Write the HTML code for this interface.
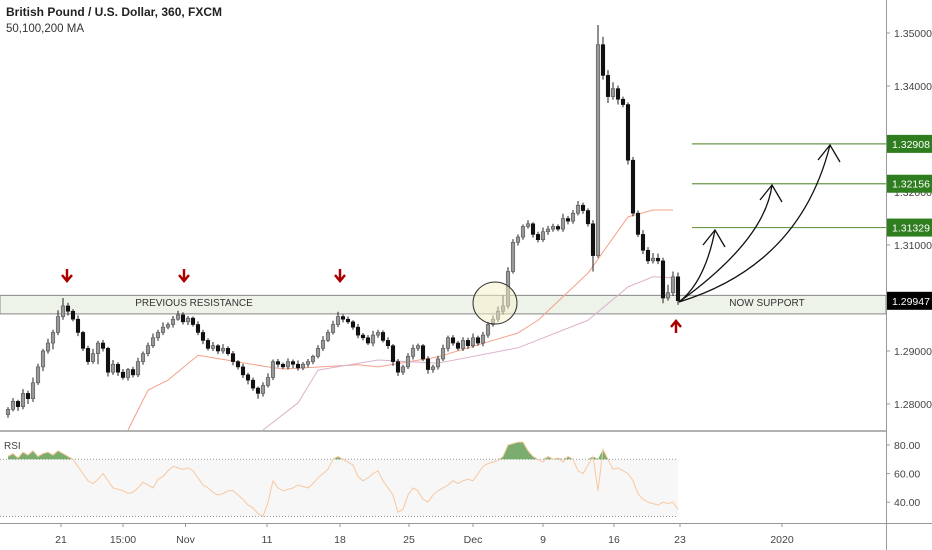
<!DOCTYPE html>
<html><head><meta charset="utf-8"><style>
html,body{margin:0;padding:0;background:#fff;}
svg{display:block;font-family:"Liberation Sans",sans-serif;}
</style></head><body>
<svg id="c" width="932" height="550" viewBox="0 0 932 550"></svg>
<script>
const closes=[1.2790,1.2805,1.2795,1.2820,1.2810,1.2840,1.2870,1.2900,1.2915,1.2935,
1.2965,1.2985,1.2975,1.2960,1.2935,1.2905,1.2880,1.2895,1.2915,1.2905,
1.2860,1.2875,1.2860,1.2850,1.2865,1.2855,1.2880,1.2895,1.2910,1.2925,
1.2935,1.2945,1.2950,1.2960,1.2968,1.2955,1.2962,1.2950,1.2935,1.2920,
1.2905,1.2910,1.2900,1.2905,1.2895,1.2880,1.2870,1.2855,1.2845,1.2830,
1.2820,1.2835,1.2850,1.2880,1.2875,1.2870,1.2880,1.2875,1.2868,1.2875,
1.2880,1.2890,1.2905,1.2920,1.2935,1.2950,1.2965,1.2960,1.2955,1.2945,
1.2930,1.2925,1.2915,1.2930,1.2935,1.2920,1.2910,1.2880,1.2860,1.2870,
1.2890,1.2905,1.2910,1.2885,1.2865,1.2870,1.2885,1.2905,1.2925,1.2915,
1.2905,1.2920,1.2910,1.2925,1.2915,1.2930,1.2950,1.2960,1.2975,1.2985,
1.3050,1.3105,1.3115,1.3135,1.3140,1.3120,1.3110,1.3125,1.3130,1.3135,
1.3130,1.3150,1.3145,1.3160,1.3175,1.3165,1.3140,1.3080,1.3478,1.3420,
1.3380,1.3395,1.3375,1.3365,1.3260,1.3160,1.3120,1.3090,1.3070,1.3075,
1.3070,1.3000,1.3010,1.3040,1.2995];
const firstOpen=1.2780;
const wickHi=[4,6,3,8,5,10,6,4,8,5,12,15,6,4,7,3,5,9,4,6,3,8,4,6,3,5,7,4,6,8,5,9,4,6,8,5,4,3,6,5,4,7,3,8,4,5,3,6,4,5,3,6,8,4,5,3,6,4,7,4,5,3,6,8,5,7,9,4,5,3,6,4,5,8,5,4,6,3,5,4,6,7,4,3,5,4,6,7,4,5,4,6,5,8,4,6,5,7,9,20,8,6,5,4,7,3,5,8,6,5,4,9,5,6,8,5,4,7,37,15,10,12,6,5,4,6,5,8,6,10,9,6,15,10,8];
const wickLo=[6,4,8,5,10,6,4,8,5,12,5,6,8,4,7,5,6,4,20,6,8,5,7,4,6,5,4,6,5,4,6,5,4,6,3,5,6,4,5,7,4,5,6,5,4,7,5,6,8,5,10,6,4,5,6,4,5,7,5,4,6,5,4,5,3,4,5,6,4,5,6,5,4,6,5,4,6,8,7,5,4,6,5,4,8,6,5,4,6,5,4,5,6,4,5,6,5,4,5,6,5,4,6,5,4,6,5,4,6,5,4,5,6,5,4,6,5,30,4,8,12,6,10,5,8,6,5,7,6,5,6,10,5,6,8];
const rsi=[72,74,71,75,73,76,72,74,75,73,76,74,72,70,65,60,55,53,56,60,55,50,49,48,46,47,50,54,52,50,56,58,62,65,64,63,64,62,57,52,50,47,45,46,48,48,45,42,38,36,32,30,40,55,50,48,49,50,52,51,50,53,57,60,63,70,72,70,68,66,58,55,57,60,62,55,50,45,33,35,45,50,48,42,40,45,48,50,52,55,53,55,56,55,60,65,67,68,69,72,80,81,82,82,76,72,70,68,72,70,71,68,72,70,62,60,66,72,48,77,70,63,64,62,60,55,46,42,40,39,38,40,39,40,35];
const ma50=[[24,1.2751],[28,1.2826],[32,1.2845],[38,1.2892],[52,1.2870],[55,1.2866],[70,1.2874],[74,1.2870],[86,1.2889],[102,1.2934],[106,1.2958],[116,1.3047],[124,1.3153],[129,1.3166],[133,1.3166]];
const ma100=[[51,1.2751],[58,1.2802],[62,1.2864],[74,1.2883],[86,1.2877],[102,1.2906],[116,1.2958],[124,1.3021],[129,1.3040],[133,1.3038]];
const priceTicks=[1.35,1.34,1.33,1.32,1.31,1.30,1.29,1.28];
const levels=[1.32908,1.32156,1.31329];
const current=1.29947;
const rsiTicks=[80,60,40];
const dateLabels=["21","15:00","Nov","11","18","25","Dec","9","16","23","2020"];
const dateIdx=[10.6,23,35.5,51.8,66.4,80.2,93,107,121.2,134.4,154.8];

const NS="http://www.w3.org/2000/svg";
const svg=document.getElementById('c');
function el(t,a,p){const e=document.createElementNS(NS,t);for(const k in a)e.setAttribute(k,a[k]);(p||svg).appendChild(e);return e;}
const X=i=>8+i*5;
const Y=p=>33+(1.35-p)*5300;
const RY=v=>445+(80-v)*1.43;

let g=el('g',{});
el('rect',{x:0,y:RY(70),width:678,height:RY(30)-RY(70),fill:'#f7f7f7'},g);
el('line',{x1:0,x2:678,y1:RY(70),y2:RY(70),stroke:'#999','stroke-dasharray':'1,2'},g);
el('line',{x1:0,x2:678,y1:RY(30),y2:RY(30),stroke:'#999','stroke-dasharray':'1,2'},g);

let b=el('rect',{x:0,y:Y(1.3005),width:886,height:Y(1.2970)-Y(1.3005),fill:'#eef3ea',stroke:'#888','stroke-width':1});

let t=el('text',{x:194,y:306,'font-size':10,fill:'#333','text-anchor':'middle'});t.textContent='PREVIOUS RESISTANCE';

t=el('text',{x:767,y:306,'font-size':10,fill:'#333','text-anchor':'middle'});t.textContent='NOW SUPPORT';


function maLine(arr,col,name){let d=arr.map((p,k)=>(k?'L':'M')+X(p[0])+','+Y(p[1])).join(' ');
 const e=el('path',{d:d,fill:'none',stroke:col,'stroke-width':1,'stroke-linejoin':'round'});}
maLine(ma50,'#f4a08a','ma-50-line');maLine(ma100,'#dcb0cc','ma-100-line');

const cg=el('g',{});
for(let i=0;i<closes.length;i++){
 const o=i?closes[i-1]:firstOpen,c=closes[i];
 const hi=Math.max(o,c)+wickHi[i]*0.0001,lo=Math.min(o,c)-wickLo[i]*0.0001;
 const up=c>=o,x=X(i);
 const w=el('line',{x1:x,x2:x,y1:Y(hi),y2:Y(lo),stroke:'#222','stroke-width':1},cg);
 
 const r=el('rect',{x:x-1.75,y:Y(Math.max(o,c)),width:3.5,height:Math.max(1,Math.abs(Y(o)-Y(c))),fill:up?'#999':'#111',stroke:up?'#555':'#111','stroke-width':0.6},cg);
 
}

let rd=rsi.map((v,i)=>(i?'L':'M')+X(i)+','+RY(v)).join(' ');
let fd='';
for(let i=0;i<rsi.length-1;i++){if(rsi[i]>70||rsi[i+1]>70){const a=Math.max(rsi[i],70),c2=Math.max(rsi[i+1],70);fd+=`M${X(i)},${RY(70)}L${X(i)},${RY(a)}L${X(i+1)},${RY(c2)}L${X(i+1)},${RY(70)}Z`;}}
let rf=el('path',{d:fd,fill:'#5a9a4a','fill-opacity':0.8});
let rl=el('path',{d:rd,fill:'none',stroke:'#f8c8a0','stroke-width':1});
t=el('text',{x:4,y:449,'font-size':10,fill:'#444'});t.textContent='RSI';

el('line',{x1:0,x2:886,y1:431,y2:431,stroke:'#999','stroke-width':1.5});
el('line',{x1:0,x2:932,y1:523.5,y2:523.5,stroke:'#999','stroke-width':1});
el('line',{x1:886.5,x2:886.5,y1:0,y2:550,stroke:'#999','stroke-width':1});

priceTicks.forEach(p=>{const y=Y(p);el('line',{x1:886,x2:890,y1:y,y2:y,stroke:'#999'});
 const tx=el('text',{x:894,y:y+4,'font-size':10.5,fill:'#444'});tx.textContent=p.toFixed(5);
 });
rsiTicks.forEach(v=>{const y=RY(v);el('line',{x1:886,x2:890,y1:y,y2:y,stroke:'#999'});
 const tx=el('text',{x:894,y:y+4,'font-size':10.5,fill:'#444'});tx.textContent=v.toFixed(2);
 });
dateLabels.forEach((s,k)=>{const x=X(dateIdx[k]);el('line',{x1:x,x2:x,y1:523,y2:527,stroke:'#999'});
 const tx=el('text',{x:x,y:543,'font-size':10.5,fill:'#444','text-anchor':'middle'});tx.textContent=s;
 });

levels.forEach(p=>{const y=Y(p);
 const ln=el('line',{x1:692,x2:886,y1:y,y2:y,stroke:'#6a9a4a','stroke-width':1.2});
 el('rect',{x:887,y:y-9,width:45,height:18,fill:'#2e7d1e'});
 const tx=el('text',{x:892,y:y+4,'font-size':10.5,fill:'#fff'});tx.textContent=p.toFixed(5);
 });
{const y=Y(current);el('rect',{x:887,y:y-9,width:45,height:18,fill:'#000'});
 const tx=el('text',{x:892,y:y+4,'font-size':10.5,fill:'#fff'});tx.textContent=current.toFixed(5);
 }

let ci=el('ellipse',{cx:495,cy:303,rx:22,ry:21,fill:'#f5f0c8','fill-opacity':0.5,stroke:'#333','stroke-width':1});


const ox=679,oy=302;
[[715,230,705,212],[772,185,765,170],[830,145,800,195]].forEach(a=>{
 const p=el('path',{d:`M${ox},${oy} Q${a[2]},${a[3]+70} ${a[0]},${a[1]}`,fill:'none',stroke:'#111','stroke-width':1.3});
 
 el('path',{d:`M${a[0]-12},${a[1]+15} L${a[0]},${a[1]} L${a[0]+10},${a[1]+17}`,fill:'none',stroke:'#111','stroke-width':1.3});
});

function redArrow(x,y,down,name){const gg=el('g',{});
 if(down){el('line',{x1:x,x2:x,y1:y-7,y2:y+3,stroke:'#a00','stroke-width':2.5},gg);el('path',{d:`M${x-5},${y-1} L${x},${y+5} L${x+5},${y-1}`,fill:'none',stroke:'#a00','stroke-width':2.5},gg);}
 else{el('line',{x1:x,x2:x,y1:y-3,y2:y+7,stroke:'#a00','stroke-width':2.5},gg);el('path',{d:`M${x-5},${y+1} L${x},${y-5} L${x+5},${y+1}`,fill:'none',stroke:'#a00','stroke-width':2.5},gg);}}
redArrow(67,276,true,'resistance-marker');redArrow(184,276,true,'resistance-marker');redArrow(340,276,true,'resistance-marker');redArrow(676,326,false,'support-marker');

t=el('text',{x:6,y:16,'font-size':12,fill:'#222','font-weight':'bold'});t.textContent='British Pound / U.S. Dollar, 360, FXCM';
t=el('text',{x:6,y:32,'font-size':11.5,fill:'#333'});t.textContent='50,100,200 MA';
</script>
</body></html>
